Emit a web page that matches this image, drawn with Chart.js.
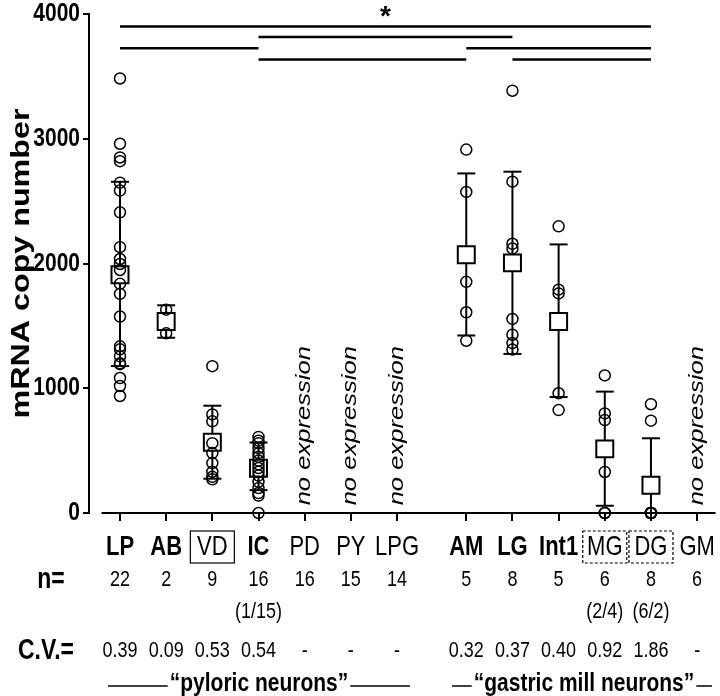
<!DOCTYPE html>
<html>
<head>
<meta charset="utf-8">
<script src="https://cdn.jsdelivr.net/npm/chart.js@4.4.1/dist/chart.umd.min.js"></script>
<style>
  html, body { margin: 0; padding: 0; background: #fff; overflow: hidden; }
  #chart { display: block; }
</style>
</head>
<body>
<canvas id="chart" width="720" height="696"></canvas>
<script>
// ─── Data ─────────────────────────────────────────────────────────────────────

const names     = ['LP', 'AB', 'VD', 'IC', 'PD', 'PY', 'LPG', 'AM', 'LG', 'Int1', 'MG', 'DG', 'GM'];
const xPos      = [0, 1, 2, 3, 4, 5, 6, 7.5, 8.5, 9.5, 10.5, 11.5, 12.5];
const boldNames = ['LP', 'AB', 'IC', 'AM', 'LG', 'Int1'];
const nLabels   = ['22', '2', '9', '16', '16', '15', '14', '5', '8', '5', '6', '8', '6'];
const subLabels = ['', '', '', '(1/15)', '', '', '', '', '', '', '(2/4)', '(6/2)', ''];
const cvLabels  = ['0.39', '0.09', '0.53', '0.54', '-', '-', '-', '0.32', '0.37', '0.40', '0.92', '1.86', '-'];
const noExpr    = ['PD', 'PY', 'LPG', 'GM'];
const yTicks    = [0, 1000, 2000, 3000, 4000];

// individual cells
const lpVals   = [3483, 2960, 2850, 2820, 2648, 2585, 2410, 2131, 2036, 1996, 1948, 1837, 1757, 1575,
                  1336, 1312, 1256, 1200, 1193, 1082, 1018, 938];
const abVals   = [1630, 1440];
const vdVals   = [1177, 790, 735, 560, 480, 400, 330, 290, 270];
const icVals   = [610, 580, 560, 520, 480, 450, 420, 390, 360, 330, 300, 250, 200, 160, 140, 0];
const amVals   = [2913, 2574, 1853, 1609, 1381];
const lgVals   = [3385, 2656, 2158, 2120, 1556, 1429, 1362, 1310];
const int1Vals = [2298, 1790, 1760, 960, 825];
const mgVals   = [1103, 798, 745, 329, 0, 0];
const dgVals   = [872, 740, 0, 0, 0, 0, 0, 0];
const cellGroups = { LP: lpVals, AB: abVals, VD: vdVals, IC: icVals, AM: amVals,
                     LG: lgVals, Int1: int1Vals, MG: mgVals, DG: dgVals };

// mean ± SD
const meanVals = [1910, 1535, 567, 358, null, null, null, 2070, 2005, 1535, 514, 223, null];
const sdHigh   = [2655, 1665, 860, 565, null, null, null, 2722, 2736, 2153, 973, 599, null];
const sdLow    = [1178, 1405, 275, 183, null, null, null, 1423, 1275, 930, 58, -150, null];

// significance brackets: [from, to, level]
const sigLines = [
  ['LP', 'DG', 3900],
  ['IC', 'LG', 3815],
  ['LP', 'IC', 3725],
  ['AM', 'DG', 3725],
  ['IC', 'AM', 3635],
  ['LG', 'DG', 3635]
];

// ─── Build datasets ───────────────────────────────────────────────────────────

const FONT = "'Liberation Sans', Arial, sans-serif";
const STRETCH = 1.26;   // the figure's text is taller than it is wide
const X_UNIT  = 46.17;  // px between neighbouring neurons
const px = name => xPos[names.indexOf(name)];

const cellPts = [];
Object.keys(cellGroups).forEach(k => {
  cellGroups[k].forEach(v => cellPts.push({ x: px(k), y: v }));
});

const meanPts = [];
const errPts  = [];
const capPts  = [];
names.forEach((n, i) => {
  if (meanVals[i] == null) return;
  meanPts.push({ x: xPos[i], y: meanVals[i] });
  errPts.push({ x: xPos[i], y: sdLow[i] }, { x: xPos[i], y: sdHigh[i] }, { x: xPos[i], y: null });
  capPts.push({ x: xPos[i], y: sdHigh[i] }, { x: xPos[i], y: sdLow[i] });
});

const sigPts = [];
sigLines.forEach(([a, b, lvl]) => {
  sigPts.push({ x: px(a), y: lvl }, { x: px(b), y: lvl }, { x: px(b), y: null });
});

// ─── Text helper ──────────────────────────────────────────────────────────────

function txt(ctx, s, x, y, font, opts = {}) {
  ctx.save();
  ctx.translate(x, y);
  if (opts.rotate) ctx.rotate(opts.rotate);
  ctx.scale(opts.sx || 1, opts.sy || 1);
  ctx.font = font;
  ctx.textAlign = opts.align || 'center';
  ctx.textBaseline = 'middle';
  ctx.fillText(s, 0, 0);
  ctx.restore();
}

// ─── Extra drawing (axis line, labels, rows of text) ─────────────────────────

const extras = {
  id: 'extras',
  // keep a fixed spacing between neurons whatever width the plot area ends up with
  afterLayout(chart) {
    const x = chart.scales.x;
    const area = chart.chartArea;
    x.min = (area.left - 120) / X_UNIT;
    x.max = x.min + (area.right - area.left) / X_UNIT;
    x.configure();
  },
  afterDraw(chart) {
    const { ctx, chartArea, scales: { x, y } } = chart;
    ctx.save();
    ctx.strokeStyle = '#000';
    ctx.fillStyle = '#000';

    // detached x axis line
    ctx.lineWidth = 2;
    ctx.beginPath();
    ctx.moveTo(x.getPixelForValue(-0.4), chartArea.bottom);
    ctx.lineTo(x.getPixelForValue(12.9), chartArea.bottom);
    ctx.stroke();

    // y tick labels + title
    y.ticks.forEach(t => {
      txt(ctx, String(t.value), chartArea.left - 9, y.getPixelForValue(t.value),
          `bold 21px ${FONT}`, { align: 'right', sy: 1.22 });
    });
    txt(ctx, 'mRNA copy number', 22, (chartArea.top + chartArea.bottom) / 2,
        `bold 26px ${FONT}`, { rotate: -Math.PI / 2, sx: 1.24 });

    // category names
    names.forEach((n, i) => {
      const w = boldNames.includes(n) ? 'bold ' : '';
      txt(ctx, n, x.getPixelForValue(xPos[i]), 547, `${w}22px ${FONT}`, { sy: STRETCH });
    });

    // boxes around labels
    const boxY = chartArea.bottom + 18;
    ctx.lineWidth = 1.2;
    const box = (name, dashed) => {
      const cx = x.getPixelForValue(px(name));
      ctx.setLineDash(dashed ? [3, 2] : []);
      ctx.strokeRect(cx - 22, boxY, 44, 32);
    };
    box('VD', false);
    box('MG', true);
    box('DG', true);
    ctx.setLineDash([]);

    // n and C.V. rows
    txt(ctx, 'n=', 51, 580, `bold 23px ${FONT}`, { sy: STRETCH });
    txt(ctx, 'C.V.=', 46, 651, `bold 23px ${FONT}`, { sy: STRETCH });
    names.forEach((n, i) => {
      const cx = x.getPixelForValue(xPos[i]);
      txt(ctx, nLabels[i], cx, 580, `18px ${FONT}`, { sy: STRETCH });
      if (subLabels[i]) txt(ctx, subLabels[i], cx, 612, `18px ${FONT}`, { sy: STRETCH });
      txt(ctx, cvLabels[i], cx, 651, `18px ${FONT}`, { sy: STRETCH });
    });

    // group labels with rules either side
    const group = (label, from, to, mid) => {
      const font = `bold 21px ${FONT}`;
      const cx = x.getPixelForValue(mid);
      txt(ctx, label, cx, 684, font, { sy: STRETCH });
      ctx.font = font;
      const hw = ctx.measureText(label).width / 2 + 2;
      ctx.lineWidth = 1.6;
      ctx.beginPath();
      ctx.moveTo(x.getPixelForValue(from), 686);
      ctx.lineTo(cx - hw, 686);
      ctx.moveTo(cx + hw, 686);
      ctx.lineTo(x.getPixelForValue(to), 686);
      ctx.stroke();
    };
    group('“pyloric neurons”', -0.26, 6.28, 3.01);
    group('“gastric mill neurons”', 7.19, 12.82, 10.05);

    // no expression
    noExpr.forEach(n => {
      txt(ctx, 'no expression', x.getPixelForValue(px(n)), y.getPixelForValue(700),
          `italic 20px ${FONT}`, { rotate: -Math.PI / 2, sx: 1.28 });
    });

    // significance star
    txt(ctx, '*', x.getPixelForValue(5.75), y.getPixelForValue(3972), `bold 28px ${FONT}`);

    ctx.restore();
  }
};

// ─── Chart ────────────────────────────────────────────────────────────────────

new Chart(document.getElementById('chart'), {
  type: 'scatter',
  data: {
    datasets: [
      {
        type: 'scatter',
        data: cellPts,
        pointStyle: 'circle',
        pointRadius: 5.5,
        borderColor: '#000',
        backgroundColor: 'transparent',
        borderWidth: 1.5,
        clip: false,
        order: 0
      },
      {
        type: 'scatter',
        data: meanPts,
        pointStyle: 'rect',
        pointRadius: 12,
        borderColor: '#000',
        backgroundColor: '#fff',
        borderWidth: 2,
        clip: false,
        order: 1
      },
      {
        type: 'scatter',
        data: capPts,
        pointStyle: 'line',
        pointRadius: 9,
        borderColor: '#000',
        borderWidth: 2,
        order: 2
      },
      {
        type: 'line',
        data: errPts,
        borderColor: '#000',
        borderWidth: 2,
        pointRadius: 0,
        spanGaps: false,
        order: 3
      },
      {
        type: 'line',
        data: sigPts,
        borderColor: '#000',
        borderWidth: 2.5,
        pointRadius: 0,
        spanGaps: false,
        clip: false,
        order: 4
      }
    ]
  },
  options: {
    responsive: false,
    animation: false,
    layout: { padding: { top: 10, right: 3, left: 0, bottom: 0 } },
    plugins: { legend: { display: false }, tooltip: { enabled: false } },
    scales: {
      x: {
        type: 'linear',
        min: -0.671,
        max: 12.93,
        afterBuildTicks: axis => { axis.ticks = xPos.map(v => ({ value: v })); },
        afterFit: axis => {
          axis.height = 183;
          axis.paddingLeft = 0;
          axis.paddingRight = 0;
        },
        border: { display: false },
        grid: { drawOnChartArea: false, tickLength: 8, color: '#000', lineWidth: 2 },
        ticks: { display: false }
      },
      y: {
        min: 0,
        max: 4000,
        afterBuildTicks: axis => { axis.ticks = yTicks.map(v => ({ value: v })); },
        afterFit: axis => {
          axis.width = 89;
          axis.paddingTop = 0;
          axis.paddingBottom = 0;
        },
        border: { display: true, color: '#000', width: 2 },
        grid: { drawOnChartArea: false, tickLength: 6, color: '#000', lineWidth: 2 },
        ticks: { display: false }
      }
    }
  },
  plugins: [extras]
});
</script>
</body>
</html>
